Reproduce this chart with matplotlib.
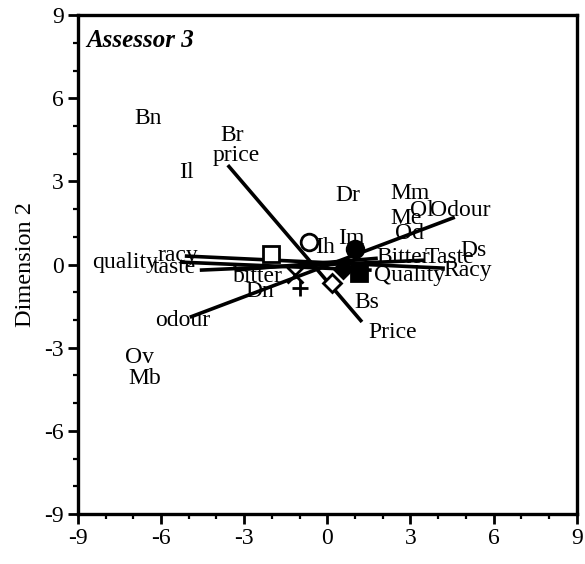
import matplotlib.pyplot as plt
from matplotlib.ticker import MultipleLocator

plt.rcParams['font.family'] = ['Liberation Serif', 'DejaVu Serif']
plt.rcParams['axes.unicode_minus'] = False

# product labels (name, x, y)
prod_names = ['Bn', 'Br', 'Il', 'Dr', 'Mm', 'Ol', 'Me', 'Od', 'Ds', 'Im', 'Ih', 'Bs', 'Dn', 'Ov', 'Mb']
prod_x = [-6.48, -3.45, -5.1, 0.74, 2.98, 3.41, 2.83, 2.98, 5.29, 0.88, -0.09, 1.43, -2.44, -6.77, -6.59]
prod_y = [5.29, 4.67, 3.34, 2.51, 2.58, 1.97, 1.68, 1.14, 0.52, 0.96, 0.6, -1.35, -0.96, -3.34, -4.1]

# attribute vectors: lowercase end -> uppercase end
neg_names = ['price', 'odour', 'racy', 'quality', 'taste', 'bitter']
neg_x = [-3.59, -4.96, -5.14, -5.32, -4.6, -3.34]
neg_y = [3.59, -1.9, 0.31, 0.09, -0.2, -0.2]
pos_names = ['Price', 'Odour', 'Racy', 'Quality', 'Taste', 'Bitter']
pos_x = [1.25, 4.6, 4.24, 1.6, 3.52, 1.82]
pos_y = [-2.07, 1.71, -0.13, -0.2, 0.16, 0.23]

# where the attribute words sit
neg_lab_x = [-3.27, -5.2, -5.4, -7.31, -5.5, -2.5]
neg_lab_y = [3.95, -2.0, 0.34, 0.09, -0.09, -0.42]
pos_lab_x = [2.36, 4.78, 5.07, 2.98, 4.42, 2.73]
pos_lab_y = [-2.44, 1.97, -0.2, -0.38, 0.27, 0.27]

# assessor markers
mk_shape = ['o', 's', 'D', '+', 'x', 'o', 's', 'D']
mk_fill = [False, False, False, False, False, True, True, True]
mk_x = [-0.65, -2.04, 0.16, -1.0, -1.17, 0.99, 1.14, 0.55]
mk_y = [0.8, 0.38, -0.67, -0.85, -0.38, 0.56, -0.3, -0.15]

fig = plt.figure(figsize=(5.85, 5.64), dpi=100)
ax = fig.add_axes([0.133, 0.0887, 0.853, 0.8843])

for i in range(len(neg_names)):
    ax.plot([neg_x[i], pos_x[i]], [neg_y[i], pos_y[i]], color='black', lw=2.6,
            solid_capstyle='butt', zorder=2)
    ax.text(neg_lab_x[i], neg_lab_y[i], neg_names[i], fontsize=17, ha='center', va='center', zorder=3)
    ax.text(pos_lab_x[i], pos_lab_y[i], pos_names[i], fontsize=17, ha='center', va='center', zorder=3)

for n, x, y in zip(prod_names, prod_x, prod_y):
    ax.text(x, y, n, fontsize=17, ha='center', va='center', zorder=3)

for m, f, x, y in zip(mk_shape, mk_fill, mk_x, mk_y):
    size = 12 if m in ('o', 's') else 11
    if m == 'D':
        size = 9
    ax.plot(x, y, marker=m, markersize=size, markeredgewidth=2.0, color='black',
            markerfacecolor='black' if f else 'white', linestyle='none', zorder=4)

ax.text(0.017, 0.972, 'Assessor 3', transform=ax.transAxes, fontsize=18,
        fontweight='bold', fontstyle='italic', ha='left', va='top')

ax.set_xlim(-9, 9)
ax.set_ylim(-9, 9)
ax.set_xticks([-9, -6, -3, 0, 3, 6, 9])
ax.set_yticks([-9, -6, -3, 0, 3, 6, 9])
ax.xaxis.set_minor_locator(MultipleLocator(1))
ax.yaxis.set_minor_locator(MultipleLocator(1))
ax.tick_params(which='major', direction='out', length=7, width=2.0, labelsize=17, pad=3)
ax.tick_params(which='minor', direction='out', length=3.5, width=1.6)
for s in ax.spines.values():
    s.set_linewidth(2.4)
ax.set_ylabel('Dimension 2', fontsize=17.5, labelpad=6)

fig.savefig('out.png', dpi=100)
